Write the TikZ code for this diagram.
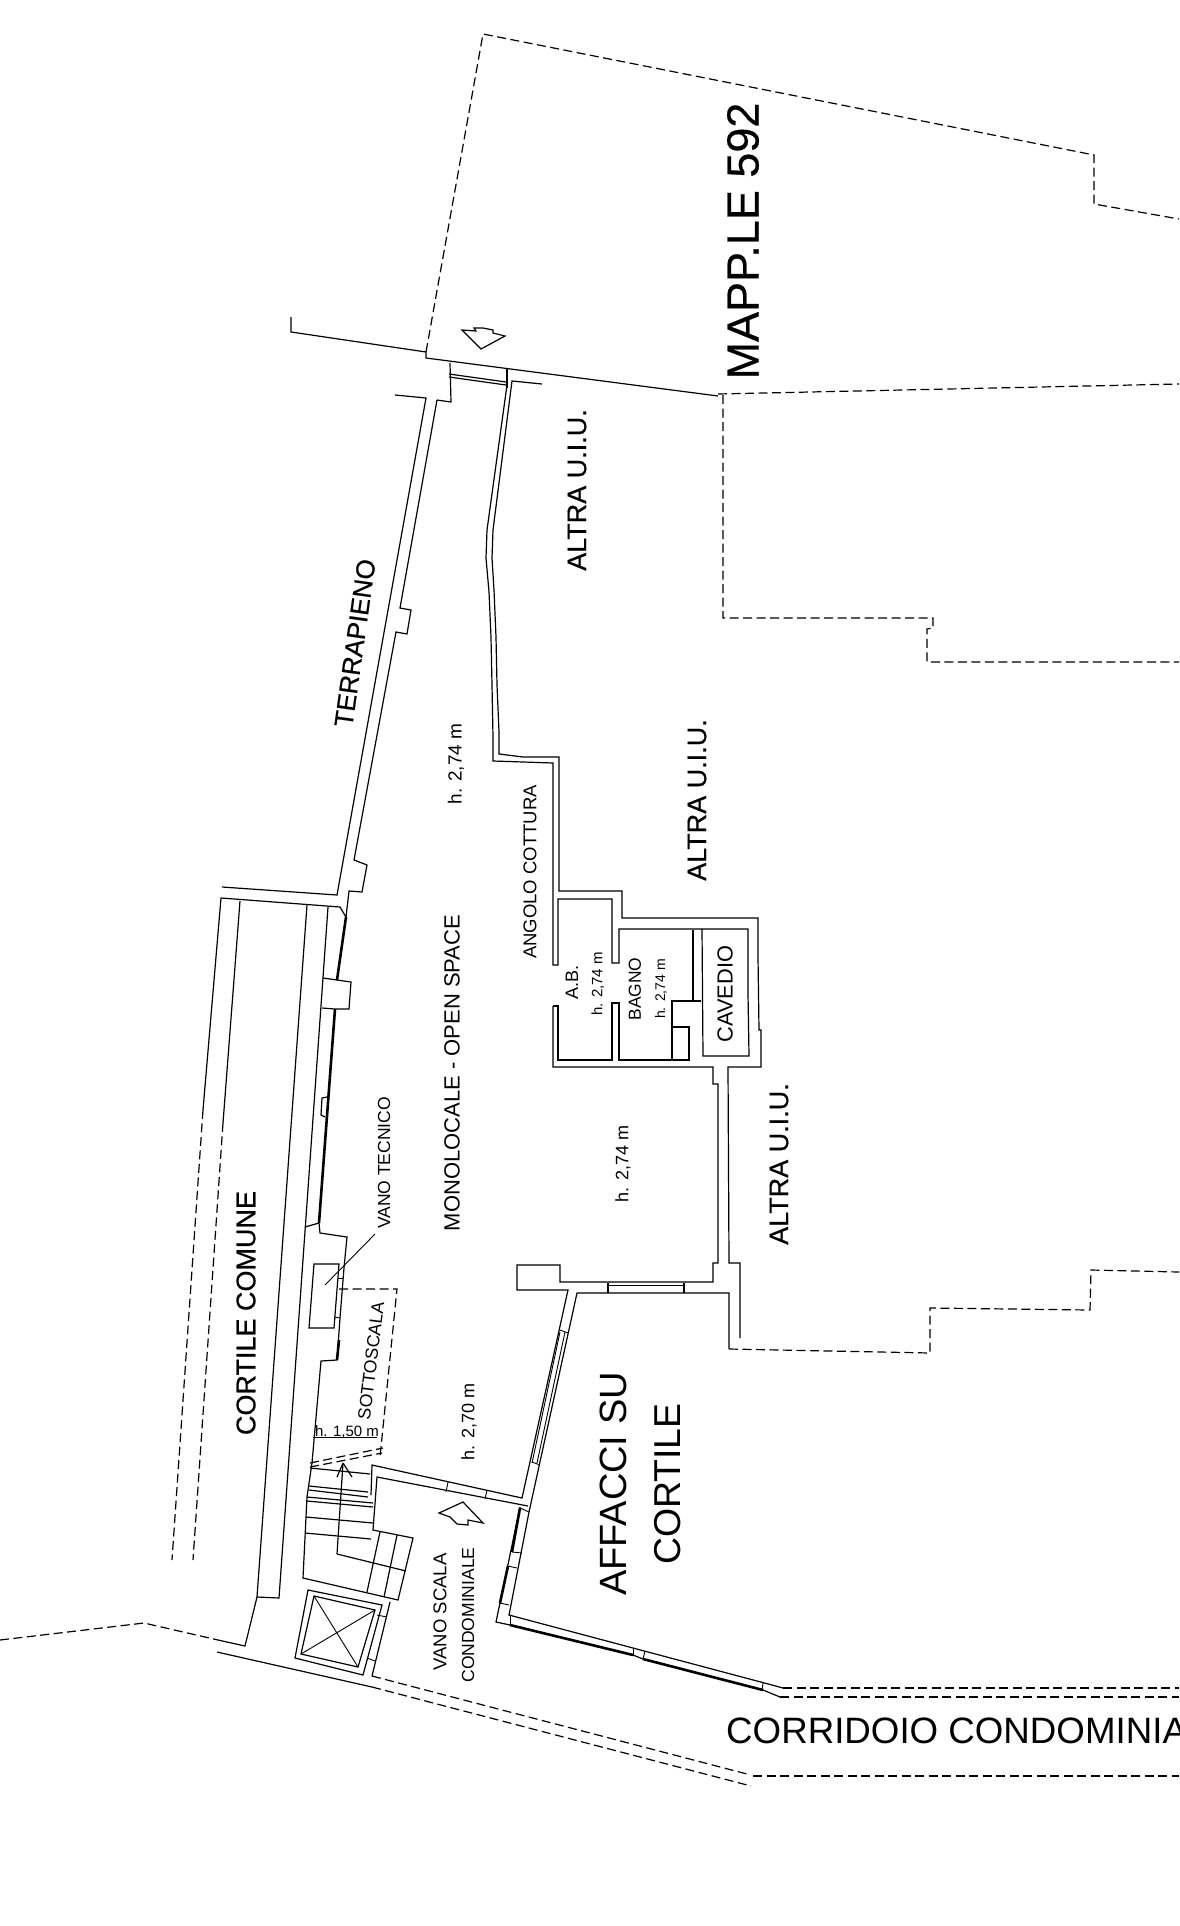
\documentclass[tikz,border=0pt]{standalone}
\usepackage{fontspec}
\setmainfont{Liberation Sans}
\newfontfamily\heavyfont[FakeBold=0.5]{Liberation Sans}
\usetikzlibrary{arrows,shapes}
\tikzstyle{wall} = [draw,line width=1.2pt,line join=miter]
\tikzstyle{thickwall} = [draw,line width=2.6pt]
\tikzstyle{limit} = [draw,line width=1.2pt,dash pattern=on 9pt off 4.5pt]
\tikzstyle{fine} = [draw,line width=0.9pt]
\tikzstyle{label} = [inner sep=0pt,rotate=90]

\begin{document}
\begin{tikzpicture}[x=1pt,y=-1pt]
    \clip (0,0) rectangle (1179,1926);
    % First we draw the property limits
    \path[limit] (426,352) -- (483,34) -- (1094,155) -- (1094,204) -- (1179,219);
    \path[limit] (718,394) -- (1179,384);
    \path[limit] (723,395) -- (723,618) -- (933,618) -- (933,628) -- (927,629) -- (927,662) -- (1179,662);
    \path[limit] (729,1349) -- (930,1353) -- (930,1308) -- (1090,1310) -- (1091,1270) -- (1179,1272);
    \path[limit] (0,1640) -- (144,1623) -- (218,1640);
    \path[limit] (372,1687) -- (751,1786);
    \path[limit] (372,1676) -- (747,1774);
    \path[limit] (753,1776) -- (1179,1776);
    \path[limit] (783,1688) -- (1179,1688);
    \path[limit] (780,1697) -- (1179,1697);
    \path[limit] (339,1289) -- (397,1289) -- (380,1457);
    \path[limit] (310,1463) -- (383,1448);
    \path[limit] (310,1467) -- (382,1453);
    \path[limit] (203,1110) -- (172,1560);
    \path[limit] (223,1123) -- (193,1560);
    % Outer walls, north side
    \path[wall] (291,317) -- (291,332) -- (426,352) -- (426,358) -- (718,396);
    \path[wall] (395,395) -- (426,398) -- (337,895) -- (222,887);
    \path[wall] (437,400) -- (451,402) -- (450,363);
    \path[wall] (437,400) -- (400,608) -- (411,610) -- (407,634) -- (396,632) -- (354,860) -- (367,865) -- (362,892) -- (349,891) -- (346,917);
    \path[wall] (449,374) -- (506,382);
    \path[wall] (449,377) -- (506,385);
    \path[wall] (507,369) -- (507,388);
    % Wall towards the other units
    \path[wall] (542,384) -- (512,381) -- (493,530) -- (492,558) -- (494,590) -- (496,637) -- (497,685) -- (499,732) -- (499,754) -- (523,757) -- (559,757) -- (559,891) -- (622,891) -- (622,918) -- (758,918) -- (758,957) -- (759,1030) -- (761,1030) -- (761,1067) -- (728,1067) -- (729,1263) -- (740,1263) -- (740,1338);
    \path[wall] (507,385) -- (487,530) -- (486,558) -- (489,592) -- (491,637) -- (492,685) -- (493,737) -- (493,761) -- (523,762) -- (553,763) -- (553,965) -- (558,965) -- (558,899) -- (612,899) -- (612,963) -- (619,963) -- (619,929) -- (748,929) -- (748,993) -- (749,1056) -- (703,1056) -- (702,929);
    \path[wall] (553,1006) -- (558,1006) -- (558,1060) -- (612,1060) -- (612,1003) -- (619,1003) -- (619,1060) -- (689,1060) -- (689,1027) -- (672,1027);
    \path[wall] (701,1001) -- (672,1001) -- (672,1060);
    \path[thickwall] (693,930) -- (693,1001);
    \path[wall] (553,1006) -- (553,1067) -- (713,1067) -- (713,1084) -- (718,1084) -- (718,1263) -- (713,1263) -- (713,1282) -- (560,1282) -- (560,1265) -- (517,1265) -- (517,1290) -- (568,1290) -- (522,1498) -- (372,1465) -- (371,1495);
    \path[wall] (729,1349) -- (729,1293) -- (577,1293) -- (529,1512) -- (509,1615) -- (633,1648);
    % Windows on the courtyard
    \path[wall] (608,1283) -- (608,1293);
    \path[wall] (684,1283) -- (684,1293);
    \path[fine] (608,1285) -- (684,1285);
    \path[fine] (560,1332) -- (532,1463);
    \path[fine] (565,1332) -- (537,1463);
    \path[wall] (520,1507) -- (496,1622) -- (510,1625);
    \path[wall] (633,1648) -- (772,1685) -- (783,1688);
    \path[thickwall] (520,1508) -- (512,1552);
    \path[thickwall] (508,1566) -- (500,1603);
    \path[thickwall] (510,1625) -- (633,1655);
    \path[wall] (633,1655) -- (643,1659);
    \path[thickwall] (643,1659) -- (763,1690);
    \path[wall] (763,1690) -- (780,1697);
    % Ticks across the walls
    \foreach \source/\dest in {{(560,1330)/(568,1333)}, {(532,1462)/(540,1465)}, {(520,1508)/(529,1512)}, {(512,1552)/(522,1553)}, {(508,1566)/(517,1568)}, {(500,1603)/(509,1605)}, {(510,1615)/(510,1625)}, {(633,1648)/(633,1655)}, {(645,1651)/(643,1659)}, {(763,1683)/(762,1690)}, {(448,1482)/(446,1492)}, {(487,1490)/(485,1499)}, {(338,1278)/(343,1278)}, {(335,1317)/(340,1318)}, {(377,1615)/(387,1617)}, {(367,1658)/(375,1661)}}
        \path[fine] \source -- \dest ;
    % West side and common courtyard
    \path[wall] (240,901) -- (223,1123);
    \path[wall] (203,1110) -- (221,898) -- (340,907) -- (346,917);
    \path[wall] (307,905) -- (257,1597) -- (245,1646) -- (218,1640);
    \path[wall] (328,907) -- (279,1598) -- (257,1597);
    \path[thickwall] (346,917) -- (337,980);
    \path[wall] (323,978) -- (337,980) -- (351,982) -- (349,1009) -- (335,1009) -- (322,1008);
    \path[thickwall] (335,1009) -- (319,1223);
    \path[wall] (327,1097) -- (322,1098) -- (321,1115) -- (325,1117);
    \path[wall] (305,1227) -- (319,1223) -- (320,1233) -- (347,1237) -- (344,1268) -- (340,1318) -- (337,1360) -- (321,1361) -- (312,1463) -- (307,1497) -- (303,1578) -- (398,1600) -- (413,1538) -- (373,1530) -- (377,1477) -- (528,1506);
    \path[thickwall] (339,1340) -- (337,1360);
    \path[wall] (314,1264) -- (339,1264) -- (334,1328) -- (309,1328) -- cycle;
    \path[fine] (325,1285) -- (375,1234);
    \path[fine] (313,1437) -- (377,1437);
    % Stairs
    \foreach \source/\dest in {{(310,1468)/(370,1474)}, {(309,1486)/(368,1492)}, {(309,1490)/(368,1497)}, {(307,1497)/(373,1503)}, {(307,1501)/(373,1507)}, {(306,1517)/(373,1523)}, {(305,1533)/(371,1539)}, {(380,1532)/(367,1592)}, {(397,1535)/(384,1597)}, {(337,1554)/(406,1571)}, {(337,1554)/(343,1463)}, {(337,1477)/(343,1463)}, {(352,1477)/(343,1463)}}
        \path[wall] \source -- \dest ;
    % Lift shaft
    \path[wall] (308,1590) -- (382,1605) -- (363,1675) -- (295,1658) -- cycle;
    \path[wall] (314,1596) -- (375,1610) -- (358,1667) -- (301,1654) -- cycle;
    \path[fine] (314,1596) -- (358,1667);
    \path[fine] (375,1610) -- (301,1654);
    \path[wall] (390,1602) -- (372,1676);
    \path[wall] (217,1652) -- (372,1687);
    % Access arrows
    \path[wall] (462,330) -- (476,331) -- (474,328) -- (483,328) -- (493,330) -- (493,333) -- (505,336) -- (481,349) -- cycle;
    \path[wall] (439,1513) -- (463,1502) -- (483,1523) -- (468,1520) -- (468,1525) -- (457,1524) -- (450,1517) -- cycle;
    % Now the labels
    \foreach \pos/\size/\name/\txt in {{(456,764)/19/hopen/h. 2,74 m}, {(623,1164)/18/hroom/h. 2,74 m}, {(452,1073)/22/monolocale/MONOLOCALE - OPEN SPACE}, {(530,872)/18.5/cottura/ANGOLO COTTURA}, {(572,982)/18/ab/A.B.}, {(598,984)/15/hab/h. 2,74 m}, {(635,989)/17.4/bagno/BAGNO}, {(661,989)/14/hbagno/h. 2,74 m}, {(725,994)/21.8/cavedio/CAVEDIO}, {(384,1163)/17.5/tecnico/VANO TECNICO}, {(469,1422)/18/hscala/h. 2,70 m}, {(440,1612)/18.5/vanoscala/VANO SCALA}, {(468,1615)/17.5/condominiale/CONDOMINIALE}, {(613,1484)/38/affacci/AFFACCI SU}, {(668,1484)/37.4/cortile/CORTILE}}
        \node[label,font=\fontsize{\size}{\size}\selectfont] (\name) at \pos {\txt};
    \foreach \pos/\size/\name/\txt in {{(743,241)/45/mappale/MAPP.LE 592}, {(577,490)/27/altratop/ALTRA U.I.U.}, {(697,800)/27/altramid/ALTRA U.I.U.}, {(779,1164)/27/altralow/ALTRA U.I.U.}, {(246,1313)/27/cortilecomune/CORTILE COMUNE}}
        \node[label,font=\heavyfont\fontsize{\size}{\size}\selectfont] (\name) at \pos {\txt};
    \node[label,rotate=-8,font=\heavyfont\fontsize{26}{26}\selectfont] (terrapieno) at (355,643) {TERRAPIENO};
    \node[label,rotate=-7,font=\fontsize{17.7}{17.7}\selectfont] (sottoscala) at (371,1361) {SOTTOSCALA};
    \node[inner sep=0pt,font=\fontsize{15}{15}\selectfont] (hsotto) at (347,1432) {h. 1,50 m};
    \node[inner sep=0pt,anchor=west,font=\fontsize{36.7}{36.7}\selectfont] (corridoio) at (726,1731) {CORRIDOIO CONDOMINIALE};
\end{tikzpicture}
\end{document}
